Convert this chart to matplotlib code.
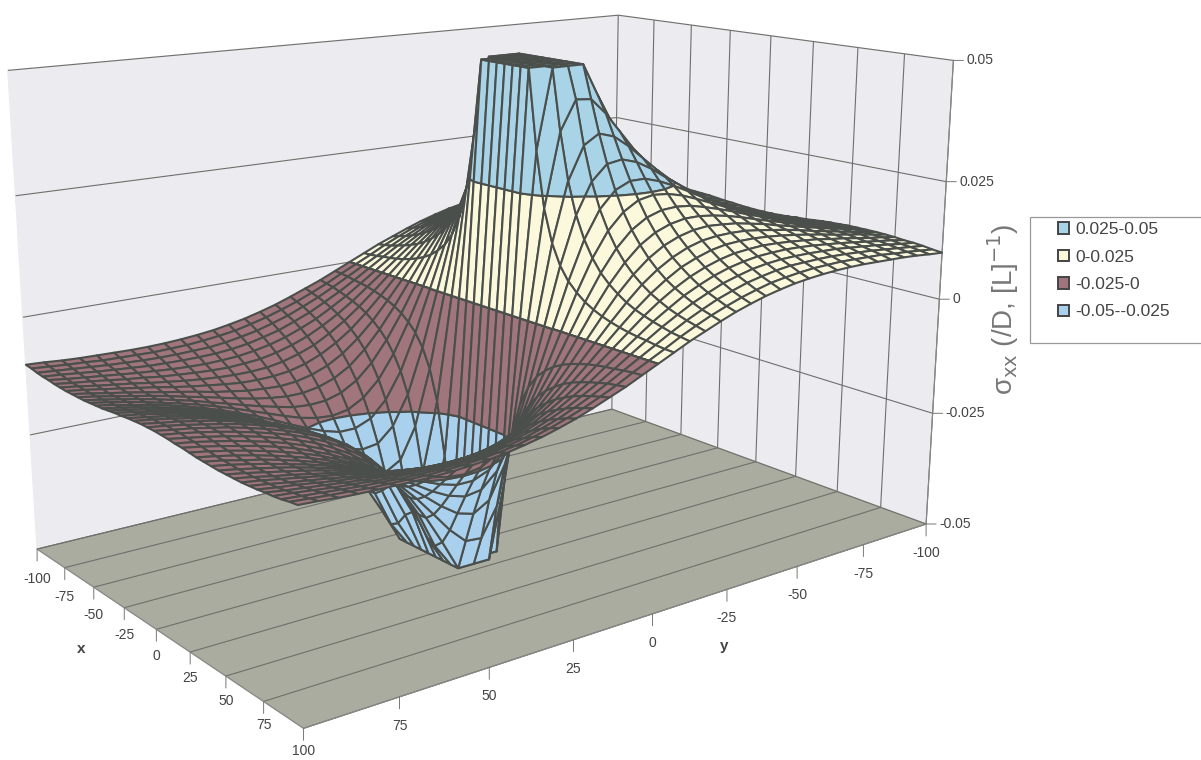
import numpy as np
import matplotlib
matplotlib.use("Agg")
import matplotlib.pyplot as plt
from matplotlib.patches import Patch, Rectangle
from mpl_toolkits.mplot3d import proj3d
from mpl_toolkits.mplot3d.art3d import Poly3DCollection

plt.rcParams['font.family'] = ['Liberation Sans', 'DejaVu Sans']
plt.rcParams['mathtext.fontset'] = 'dejavusans'

x_ticks = [-100, -75, -50, -25, 0, 25, 50, 75, 100]
y_ticks = [-100, -75, -50, -25, 0, 25, 50, 75, 100]
z_ticks = [-0.05, -0.025, 0, 0.025, 0.05]
z_tick_labels = ['-0.05', '-0.025', '0', '0.025', '0.05']
grid_step = 5

band_labels = ['0.025-0.05', '0-0.025', '-0.025-0', '-0.05--0.025']
band_edges = [(0.025, 0.05), (0, 0.025), (-0.025, 0), (-0.05, -0.025)]
band_colors = ['#a9d4e8', '#fbf8dc', '#a0757c', '#a9d0ec']

# sigma_xx in units of 1e-4, one row per |y| = 0,5..100 and one column per |x| = 0,5..100
# the surface is even in x and odd in y, values are cut at the axis limit
sigma_quadrant = [
    [0]*21,
    [500,500,500,500,339,225,159,118,91,73,59,49,41,35,30,26,23,21,18,16,15],
    [500,500,500,500,500,376,280,215,170,137,112,94,80,68,59,52,46,41,36,33,30],
    [500,500,500,500,500,436,347,278,226,187,156,132,113,98,85,75,66,59,53,48,43],
    [500,500,500,500,500,433,367,309,260,220,188,162,140,122,107,95,85,76,68,62,56],
    [400,414,440,450,434,400,357,314,274,239,208,182,160,141,126,112,100,90,82,74,68],
    [333,342,360,373,373,358,333,304,274,245,218,194,173,155,139,125,113,103,93,85,78],
    [286,291,304,316,321,317,304,286,264,242,220,200,181,164,149,135,123,112,103,94,87],
    [250,254,263,273,280,281,275,264,250,234,217,200,184,168,155,142,130,120,110,102,94],
    [222,225,232,240,247,250,249,243,234,222,209,196,182,169,157,145,135,125,116,107,100],
    [200,202,207,214,220,224,225,223,217,209,200,190,179,168,157,147,137,128,120,111,104],
    [182,183,187,193,198,202,204,204,201,196,190,182,173,164,155,146,138,129,121,114,107],
    [167,168,171,175,180,184,187,187,187,183,179,173,167,159,152,144,137,129,122,115,109],
    [154,155,157,161,165,169,171,173,173,171,169,164,159,154,148,141,135,128,122,116,110],
    [143,144,146,149,152,155,158,160,161,160,158,156,152,148,143,138,132,127,121,115,110],
    [133,134,136,138,141,144,147,149,150,150,149,147,145,141,138,133,129,124,119,114,109],
    [125,125,127,129,132,134,137,139,140,141,140,139,138,135,132,129,125,121,117,113,108],
    [118,118,119,121,123,126,128,130,131,132,132,132,131,129,127,124,121,118,114,110,107],
    [111,111,112,114,116,118,120,122,124,124,125,125,125,123,122,119,117,114,111,108,105],
    [105,106,106,108,109,111,113,115,116,117,118,118,118,117,116,115,113,110,108,105,102],
    [100,100,101,102,104,105,107,109,110,111,112,112,112,112,111,110,108,107,105,102,100],
]


def cut_polygon(points, level, keep_above):
    # cut one polygon at a z level, keeps the part on one side
    out = []
    for k in range(len(points)):
        p = points[k]
        q = points[(k + 1) % len(points)]
        p_in = p[2] >= level if keep_above else p[2] <= level
        q_in = q[2] >= level if keep_above else q[2] <= level
        if p_in:
            out.append(p)
        if p_in != q_in:
            t = (level - p[2]) / (q[2] - p[2])
            out.append((p[0] + t * (q[0] - p[0]), p[1] + t * (q[1] - p[1]), level))
    return out


def tick_with_label(ax, xv, yv, zv, label, tick_off, label_off, ha):
    # tick and label sit at a fixed pixel offset from the projected axis point
    u, v, _ = proj3d.proj_transform(xv, yv, zv, ax.get_proj())
    ax.annotate('', xy=(u, v), xytext=tick_off, textcoords='offset pixels', annotation_clip=False,
                arrowprops=dict(arrowstyle='-', color='#777777', lw=0.7, shrinkA=0, shrinkB=0), zorder=3)
    if label:
        ax.annotate(label, xy=(u, v), xytext=label_off, textcoords='offset pixels', annotation_clip=False,
                    fontsize=10, color='#444444', ha=ha, va='center', zorder=3)


quad = np.array(sigma_quadrant) / 1e4
x_grid = np.arange(-100, 101, grid_step)
y_grid = np.arange(-100, 101, grid_step)
z_grid = np.zeros((len(y_grid), len(x_grid)))
for r, yv in enumerate(y_grid):
    for c, xv in enumerate(x_grid):
        z_grid[r, c] = -np.sign(yv) * quad[abs(yv) // grid_step, abs(xv) // grid_step]

polys = []
colors = []
for r in range(len(y_grid) - 1):
    for c in range(len(x_grid) - 1):
        corners = [
            (x_grid[c], y_grid[r], z_grid[r, c]),
            (x_grid[c + 1], y_grid[r], z_grid[r, c + 1]),
            (x_grid[c + 1], y_grid[r + 1], z_grid[r + 1, c + 1]),
            (x_grid[c], y_grid[r + 1], z_grid[r + 1, c]),
        ]
        for (low, high), color in zip(band_edges, band_colors):
            piece = cut_polygon(corners, low, True)
            if piece:
                piece = cut_polygon(piece, high, False)
            if len(piece) >= 3:
                polys.append(piece)
                colors.append(color)

fig = plt.figure(figsize=(12.01, 7.6), dpi=100)
ax = fig.add_axes([-0.0244, -0.0873, 0.8404, 1.328], projection='3d')
ax.computed_zorder = False
ax.set_proj_type('persp', focal_length=0.367)
ax.view_init(elev=14.688, azim=-37.531)
ax.set_box_aspect((0.652, 1, 0.632), zoom=1.0)

ax.set_xlim(-100, 100)
ax.set_ylim(100, -100)
ax.set_zlim(-0.05, 0.05)

ax.xaxis.set_pane_color('#ebebf0')
ax.yaxis.set_pane_color('#ebebf0')
ax.zaxis.set_pane_color('#a9ac9e')
for axis in [ax.xaxis, ax.yaxis, ax.zaxis]:
    axis._axinfo['grid'].update(color='#6f706c', linewidth=0.8)
    axis._axinfo['tick'].update(inward_factor=0, outward_factor=0)
    axis.line.set_color('#888888')
# the left wall and the floor only carry lines from the x and z ticks
ax.yaxis._axinfo['grid'].update(linewidth=0)

ax.set_xticks(x_ticks)
ax.set_yticks(y_ticks)
ax.set_zticks(z_ticks)
ax.set_xticklabels([''] * len(x_ticks))
ax.set_yticklabels([''] * len(y_ticks))
ax.set_zticklabels([''] * len(z_ticks))

surface = Poly3DCollection(polys, facecolors=colors, edgecolors='#4a4f4c', linewidths=1.5, zorder=2)
ax.add_collection3d(surface)

for xv in x_ticks:
    tick_with_label(ax, xv, 100, -0.05, str(xv), (0, -12), (0, -30 + (xv + 100) * 0.035), 'center')
for yv in y_ticks[:-1]:
    tick_with_label(ax, 100, yv, -0.05, str(yv), (0, -12), (0, -29), 'center')
for zv, label in zip(z_ticks, z_tick_labels):
    tick_with_label(ax, 100, -100, zv, label, (10, 0), (13, 0), 'left')

fig.add_artist(Rectangle((1030 / 1201, 1 - 343 / 760), 190 / 1201, 126 / 760, transform=fig.transFigure,
                         facecolor='white', edgecolor='#999999', lw=0.9))
handles = [Patch(facecolor=col, edgecolor='#444444', lw=1.4) for col in band_colors]
leg = fig.legend(handles, band_labels, loc='upper left', bbox_to_anchor=(1058 / 1201, 1 - 222 / 760), fontsize=12.5,
                 handlelength=0.65, handleheight=0.65, handletextpad=0.35, labelspacing=0.72,
                 borderpad=0, borderaxespad=0, frameon=False)
for t in leg.get_texts():
    t.set_color('#444444')

fig.text(1003 / 1201, 1 - 309 / 760, r'σ$_{\mathrm{xx}}$ (/D, [L]$^{-1}$)', rotation=90, fontsize=20,
         color='#777777', ha='center', va='center')
fig.text(81 / 1201, 1 - 649 / 760, 'x', fontsize=11, fontweight='bold', color='#444444', ha='center', va='center')
fig.text(724 / 1201, 1 - 646 / 760, 'y', fontsize=11, fontweight='bold', color='#444444', ha='center', va='center')

fig.savefig('out.png', dpi=100)
